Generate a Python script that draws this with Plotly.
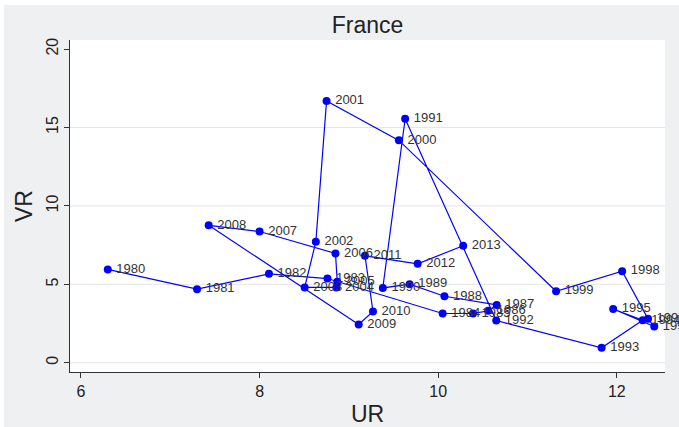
import plotly.graph_objects as go

years = list(range(1980, 2014))
ur = [6.30, 7.30, 8.105, 8.76, 10.05, 10.39, 10.56, 10.655, 10.07, 9.68,
      9.38, 9.63, 10.65, 11.83, 12.29, 11.96, 12.42, 12.35, 12.06, 11.32,
      9.56, 8.75, 8.63, 8.505, 8.86, 8.87, 8.85, 8.00, 7.43, 9.11,
      9.27, 9.18, 9.77, 10.28]
vr = [5.95, 4.69, 5.67, 5.37, 3.14, 3.14, 3.31, 3.69, 4.24, 5.01,
      4.77, 15.56, 2.69, 0.95, 2.71, 3.43, 2.31, 2.80, 5.84, 4.56,
      14.18, 16.69, 7.71, 4.80, 4.80, 5.16, 6.97, 8.37, 8.76, 2.44,
      3.27, 6.82, 6.31, 7.46]
x_ticks = [6, 8, 10, 12]
y_ticks = [0, 5, 10, 15, 20]

BG = "#eff0f2"
FONT = "Liberation Sans, Arial, sans-serif"

fig = go.Figure()
fig.add_trace(go.Scatter(
    x=ur, y=vr, mode="lines+markers+text",
    text=["\u2009" + str(y) for y in years],
    textposition="middle right",
    textfont=dict(size=13, color="#333333", family=FONT),
    line=dict(color="#0000ff", width=1.2),
    marker=dict(color="#0000ff", size=8),
    cliponaxis=False,
    showlegend=False,
))

# horizontal gridlines (not at top)
for yv in [0, 5, 10, 15]:
    fig.add_shape(type="line", xref="paper", x0=0, x1=1, yref="y", y0=yv, y1=yv,
                  line=dict(color="#e6e6e6", width=1), layer="below")

L, R, T, B = 70, 14, 40, 55
W, H = 679, 427
pw, ph = W - L - R, H - T - B
# white strips at top and left edge of the image
fig.add_shape(type="rect", xref="paper", yref="paper",
              x0=(0 - L) / pw, x1=(4 - L) / pw, y0=(H - B - H) / ph, y1=(H - B) / ph + 0.5,
              fillcolor="white", line_width=0, layer="below")
fig.add_shape(type="rect", xref="paper", yref="paper",
              x0=(0 - L) / pw, x1=(W - L) / pw, y0=(H - B - 5) / ph, y1=(H - B) / ph + 0.5,
              fillcolor="white", line_width=0, layer="below")

fig.update_layout(
    width=W, height=H,
    margin=dict(l=L, r=R, t=T, b=B, autoexpand=False),
    paper_bgcolor=BG, plot_bgcolor="white",
    font=dict(family=FONT, color="#222222"),
    title=dict(text="France", x=(L + pw / 2) / W, xanchor="center",
               y=1 - 25 / H, yanchor="middle",
               font=dict(size=23, color="#222222")),
    xaxis=dict(
        range=[5.877, 12.54], tickvals=x_ticks, showgrid=False, zeroline=False,
        showline=True, linecolor="#333333", linewidth=1, automargin=False,
        ticks="outside", ticklen=5, tickcolor="#333333",
        tickfont=dict(size=16, color="#222222"),
        title=dict(text="UR", font=dict(size=23, color="#222222"), standoff=6),
    ),
    yaxis=dict(
        range=[-0.59, 20.58], tickvals=y_ticks, showgrid=False, zeroline=False,
        showline=True, linecolor="#333333", linewidth=1, automargin=False,
        ticks="outside", ticklen=5, tickcolor="#333333", tickangle=-90,
        tickfont=dict(size=16, color="#222222"),
        title=dict(text="VR", font=dict(size=23, color="#222222"), standoff=4),
    ),
)

fig.write_html("out.html", config={"displayModeBar": False},
               post_script="document.body.style.margin='0';document.body.style.overflow='hidden';")
